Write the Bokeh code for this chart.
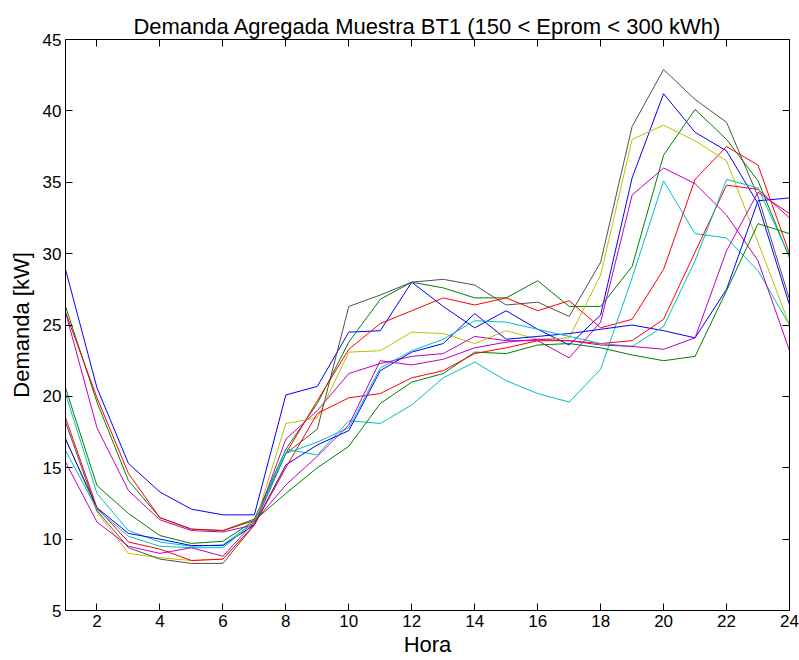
from bokeh.plotting import figure
from bokeh.models import Range1d, LinearAxis, FixedTicker, ColumnDataSource
from bokeh.embed import file_html
from bokeh.resources import INLINE

hours = list(range(1, 25))

# Aggregated demand [kW] per hour for each sample group
blue_a = [28.9, 20.6, 15.3, 13.3, 12.1, 11.7, 11.7, 20.1, 20.7, 24.5, 24.6, 28.0,
          26.3, 24.8, 26.0, 24.7, 23.6, 25.7, 35.3, 41.2, 38.5, 37.2, 33.5, 26.4]
green_a = [26.3, 19.6, 14.1, 11.5, 10.7, 10.6, 11.4, 16.3, 19.5, 23.8, 26.8, 28.0,
           27.6, 26.9, 26.9, 28.1, 26.3, 26.3, 29.1, 36.9, 40.1, 38.0, 35.1, 29.7]
red_a = [25.9, 19.9, 14.6, 11.5, 10.7, 10.6, 11.3, 16.0, 19.7, 23.3, 25.1, 26.0,
         26.9, 26.4, 26.9, 26.0, 26.7, 24.8, 25.4, 28.9, 35.2, 37.5, 36.2, 30.0]
cyan_a = [20.2, 13.2, 10.6, 9.8, 9.5, 9.6, 11.2, 16.3, 15.9, 18.3, 18.1, 19.4,
          21.3, 22.4, 21.1, 20.2, 19.6, 21.9, 28.3, 35.1, 31.4, 31.1, 28.8, 25.0]
magenta_a = [25.9, 17.8, 13.4, 11.35, 10.6, 10.5, 11.0, 17.0, 19.0, 21.6, 22.3, 22.8,
             23.0, 24.2, 23.9, 23.9, 22.7, 25.2, 34.1, 36.0, 34.9, 32.7, 29.5, 23.2]
yellow = [17.1, 11.9, 9.0, 8.7, 8.5, 8.6, 11.0, 18.1, 18.5, 23.1, 23.2, 24.5,
          24.4, 23.7, 24.6, 24.0, 24.1, 28.5, 38.0, 39.0, 37.9, 36.5, 30.8, 25.0]
black = [18.2, 12.0, 9.4, 8.6, 8.3, 8.3, 11.0, 16.0, 17.7, 26.3, 27.1, 28.0,
         28.2, 27.8, 26.4, 26.6, 25.6, 29.4, 38.9, 42.9, 40.8, 39.2, 34.0, 26.8]
blue_b = [17.0, 12.2, 10.4, 10.0, 9.55, 9.55, 11.0, 15.2, 16.6, 17.6, 21.8, 23.1,
          23.7, 25.8, 24.0, 24.2, 24.4, 24.7, 25.0, 24.6, 24.1, 27.5, 33.7, 33.9]
green_b = [20.6, 13.75, 11.8, 10.25, 9.7, 9.85, 11.3, 13.2, 15.0, 16.5, 19.5, 21.0,
           21.6, 23.1, 23.0, 23.6, 23.7, 23.4, 22.9, 22.5, 22.8, 27.4, 32.1, 31.4]
red_b = [18.5, 12.2, 9.8, 9.3, 8.5, 8.6, 11.0, 15.0, 18.8, 19.9, 20.2, 21.3,
         21.8, 23.0, 23.4, 23.9, 23.9, 23.7, 23.9, 25.4, 30.1, 34.8, 34.5, 32.5]
cyan_b = [16.2, 12.1, 10.2, 9.5, 9.4, 9.4, 11.2, 16.0, 16.8, 17.8, 22.0, 23.2,
          24.0, 25.3, 25.2, 24.7, 24.2, 23.7, 23.5, 24.9, 29.5, 35.2, 34.6, 29.8]
magenta_b = [15.4, 11.2, 9.5, 9.0, 9.4, 8.8, 11.2, 13.8, 15.8, 18.0, 22.5, 22.2,
             22.6, 23.4, 23.8, 24.0, 23.9, 23.6, 23.5, 23.3, 24.1, 30.2, 34.3, 32.8]

series = [blue_a, green_a, red_a, cyan_a, magenta_a, yellow, black,
          blue_b, green_b, red_b, cyan_b, magenta_b]
# classic colour order: b g r c m y k
colors = ["#0000ff", "#008000", "#ff0000", "#00bfbf", "#bf00bf", "#bfbf00", "#505050",
          "#0000ff", "#008000", "#ff0000", "#00bfbf", "#bf00bf"]

x_ticks = list(range(2, 25, 2))
y_ticks = list(range(5, 46, 5))

FONT = "Liberation Sans"

p = figure(width=799, height=660, output_backend="svg", toolbar_location=None,
           x_range=Range1d(1, 24), y_range=Range1d(5, 45),
           x_axis_location=None, y_axis_location=None,
           min_border_left=65, min_border_right=10,
           min_border_top=39, min_border_bottom=50)

p.title.text = "Demanda Agregada Muestra BT1 (150 < Eprom < 300 kWh)"
p.title.align = "center"
p.title.text_font = FONT
p.title.text_font_style = "normal"
p.title.text_font_size = "22px"
p.title.text_color = "black"
p.title.standoff = 2

p.xgrid.visible = False
p.ygrid.visible = False
p.outline_line_color = "black"
p.outline_line_width = 1
p.background_fill_color = "white"
p.border_fill_color = "white"


def style_axis(ax, ticks, labels=True):
    ax.ticker = FixedTicker(ticks=ticks, minor_ticks=[])
    ax.major_tick_in = 7
    ax.major_tick_out = 0
    ax.minor_tick_in = 0
    ax.minor_tick_out = 0
    ax.axis_line_color = "black"
    ax.major_tick_line_color = "black"
    ax.major_label_text_font = FONT
    if labels:
        ax.major_label_text_color = "black"
        ax.major_label_text_font_size = "17px"
        ax.major_label_standoff = 4
    else:
        # tick marks only on the opposite sides of the box
        ax.major_label_text_color = None
        ax.major_label_text_font_size = "0px"
        ax.major_label_standoff = 0


bottom = LinearAxis(axis_label="Hora")
style_axis(bottom, x_ticks)
bottom.axis_label_text_font = FONT
bottom.axis_label_text_font_style = "normal"
bottom.axis_label_text_font_size = "22px"
bottom.axis_label_text_color = "black"
bottom.axis_label_standoff = 2
p.add_layout(bottom, "below")

left = LinearAxis(axis_label="Demanda [kW]")
style_axis(left, y_ticks)
left.axis_label_text_font = FONT
left.axis_label_text_font_style = "normal"
left.axis_label_text_font_size = "22px"
left.axis_label_text_color = "black"
left.axis_label_standoff = 6
p.add_layout(left, "left")

top = LinearAxis()
style_axis(top, x_ticks, labels=False)
p.add_layout(top, "above")

right = LinearAxis()
style_axis(right, y_ticks, labels=False)
p.add_layout(right, "right")

for ys, c in zip(series, colors):
    src = ColumnDataSource(dict(x=hours, y=ys))
    p.line("x", "y", source=src, line_color=c, line_width=1)

open("out.html", "w").write(file_html(p, INLINE))
